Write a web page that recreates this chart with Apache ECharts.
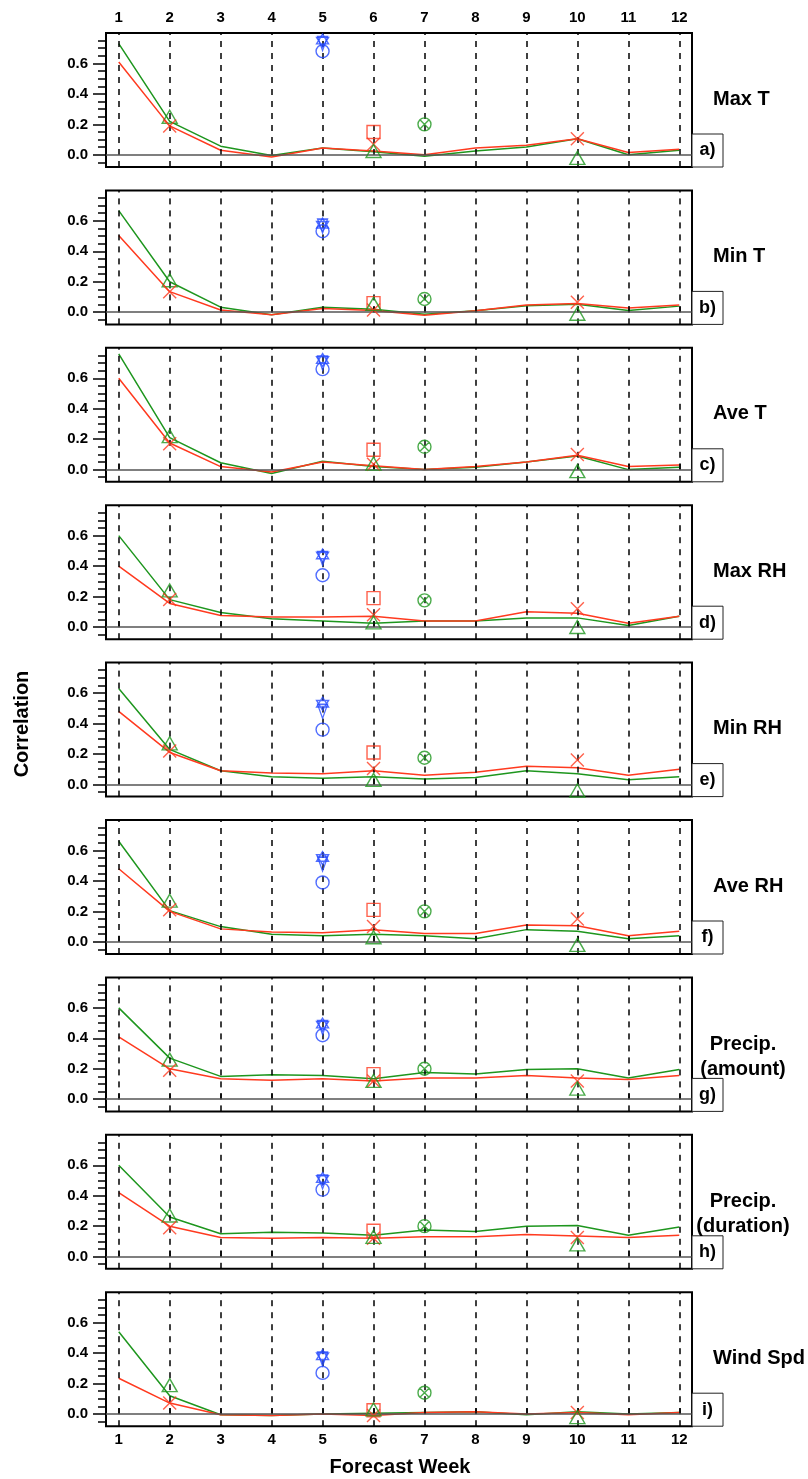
<!DOCTYPE html>
<html>
<head>
<meta charset="utf-8">
<script src="https://cdn.jsdelivr.net/npm/echarts@6/dist/echarts.min.js"></script>
<style>
html,body{margin:0;padding:0;background:#fff;}
#chart{width:808px;height:1479px;}
</style>
</head>
<body>
<div id="chart"></div>
<script>
// ---------- DATA ----------
const weeks = [1,2,3,4,5,6,7,8,9,10,11,12];
const panelNames = ['Max T','Min T','Ave T','Max RH','Min RH','Ave RH','Precip.\n(amount)','Precip.\n(duration)','Wind Spd'];
const panelLetters = ['a)','b)','c)','d)','e)','f)','g)','h)','i)'];
const yTickLabels = [0, 0.2, 0.4, 0.6];
const yMinorTicks = [-0.05,0.05,0.1,0.15,0.25,0.3,0.35,0.45,0.5,0.55,0.65,0.7,0.75];

// green line per panel (weeks 1..12)
const greenLine = [
  [0.73,0.22,0.057,-0.005,0.045,0.02,-0.01,0.025,0.052,0.106,0.0,0.03],
  [0.667,0.20,0.033,-0.017,0.033,0.02,-0.013,0.01,0.042,0.053,0.012,0.04],
  [0.76,0.21,0.045,-0.025,0.055,0.02,0.0,0.015,0.05,0.09,0.0,0.015],
  [0.60,0.18,0.095,0.055,0.04,0.025,0.04,0.04,0.06,0.06,0.01,0.07],
  [0.63,0.23,0.09,0.05,0.04,0.05,0.035,0.045,0.09,0.07,0.03,0.05],
  [0.66,0.205,0.10,0.05,0.04,0.05,0.04,0.02,0.08,0.07,0.02,0.04],
  [0.60,0.27,0.15,0.16,0.155,0.135,0.175,0.165,0.195,0.20,0.14,0.195],
  [0.60,0.26,0.15,0.16,0.155,0.14,0.175,0.165,0.20,0.205,0.14,0.195],
  [0.54,0.12,-0.005,-0.01,0.0,0.005,0.01,0.015,-0.005,0.015,0.0,0.01]
];
// red line per panel (weeks 1..12)
const redLine = [
  [0.61,0.19,0.03,-0.015,0.045,0.025,0.0,0.045,0.063,0.106,0.015,0.037],
  [0.504,0.135,0.015,-0.017,0.025,0.012,-0.02,0.01,0.048,0.058,0.027,0.048],
  [0.60,0.175,0.02,-0.015,0.05,0.025,0.0,0.02,0.05,0.095,0.02,0.03],
  [0.40,0.155,0.075,0.065,0.065,0.07,0.04,0.04,0.10,0.09,0.025,0.07],
  [0.48,0.21,0.09,0.075,0.07,0.09,0.06,0.08,0.12,0.11,0.06,0.10],
  [0.48,0.20,0.085,0.065,0.06,0.08,0.055,0.055,0.11,0.105,0.04,0.07],
  [0.41,0.20,0.135,0.125,0.135,0.12,0.14,0.14,0.155,0.14,0.13,0.155],
  [0.42,0.20,0.125,0.12,0.125,0.12,0.13,0.13,0.145,0.135,0.125,0.14],
  [0.235,0.072,-0.005,-0.01,0.0,-0.01,0.01,0.015,0.0,0.01,-0.005,0.01]
];
// single markers (one value per panel a..i)
const greenTriWeek2  = [0.25,0.21,0.22,0.24,0.27,0.27,0.26,0.27,0.19];
const redXWeek2      = [0.19,0.135,0.17,0.18,0.22,0.21,0.19,0.19,0.072];
const blueStarWeek5  = [0.75,0.575,0.72,0.47,0.53,0.55,0.49,0.51,0.38];
const blueTriDnWeek5 = [0.73,0.565,0.70,0.45,0.48,0.51,0.47,0.49,0.36];
const blueCircWeek5  = [0.68,0.532,0.66,0.34,0.36,0.39,0.42,0.44,0.27];
const redSqWeek6     = [0.15,0.06,0.13,0.19,0.21,0.21,0.165,0.17,0.025];
const redXWeek6      = [0.07,0.015,0.035,0.08,0.105,0.10,0.12,0.12,-0.01];
const greenTriWeek6  = [0.025,0.055,0.04,0.03,0.03,0.03,0.12,0.13,0.03];
const greenOxWeek7   = [0.20,0.087,0.15,0.175,0.175,0.20,0.20,0.20,0.14];
const redXWeek10     = [0.106,0.065,0.10,0.12,0.16,0.15,0.12,0.125,0.01];
const greenTriWeek10 = [-0.02,-0.01,-0.01,0.0,-0.04,-0.02,0.07,0.08,-0.02];

// ---------- STYLE ----------
const GREEN = '#1e961e', RED = '#ff3a1f', BLUE = '#2448ff';
const FONT = '"Liberation Sans", Arial, Helvetica, sans-serif';
const GL = 106, GW = 586, GT0 = 33, PITCH = 157.4, GH = 134;

const SYM = {
  tri: 'path://M0,-10 L10,7 L-10,7 Z',
  triDn: 'path://M-7,-9 L7,-9 L0,11 Z',
  star: 'path://M0,-10 L8.66,5 L-8.66,5 Z M0,10 L8.66,-5 L-8.66,-5 Z',
  x: 'path://M-10,-10 L10,10 M10,-10 L-10,10',
  ox: 'path://M10,0 A10,10 0 1 1 -10,0 A10,10 0 1 1 10,0 Z M-7,-7 L7,7 M7,-7 L-7,7',
  sq: 'path://M-10,-10 L10,-10 L10,10 L-10,10 Z',
  circ: 'path://M10,0 A10,10 0 1 1 -10,0 A10,10 0 1 1 10,0 Z'
};

const grids = [], xAxes = [], yAxes = [], series = [], graphics = [];
const hollow = (c) => ({color: 'rgba(0,0,0,0)', borderColor: c, borderWidth: 1.4});

for (let i = 0; i < 9; i++) {
  const top = GT0 + i * PITCH;
  grids.push({left: GL, top: top, width: GW, height: GH, show: true, borderColor: '#000', borderWidth: 2, backgroundColor: 'rgba(0,0,0,0)'});
  const isTop = i === 0, isBottom = i === 8;
  xAxes.push({
    type: 'value', gridIndex: i, min: 0.75, max: 12.25,
    position: isTop ? 'top' : 'bottom',
    axisLine: {show: false},
    splitLine: {show: false},
    axisTick: {show: !isTop, inside: true, length: 6, customValues: weeks, lineStyle: {color: '#000', width: 1.5}},
    axisLabel: {show: isTop || isBottom, customValues: weeks, margin: isTop ? 8 : 6,
      fontFamily: FONT, fontWeight: 'bold', fontSize: 15, color: '#000'}
  });
  yAxes.push({
    type: 'value', gridIndex: i, min: -0.08, max: 0.8, position: 'left',
    axisLine: {show: false}, splitLine: {show: false},
    axisTick: {show: true, length: 13, customValues: yTickLabels, lineStyle: {color: '#000', width: 1.5}},
    axisLabel: {show: true, customValues: yTickLabels, margin: 18, formatter: v => v.toFixed(1),
      fontFamily: FONT, fontWeight: 'bold', fontSize: 15, color: '#000'}
  });
  yAxes.push({
    type: 'value', gridIndex: i, min: -0.08, max: 0.8, position: 'left', offset: 0,
    axisLine: {show: false}, splitLine: {show: false},
    axisTick: {show: true, length: 8, customValues: yMinorTicks, lineStyle: {color: '#000', width: 1.5}},
    axisLabel: {show: false}
  });
  const yi = i * 2;
  // dashed verticals + zero line
  series.push({
    type: 'line', xAxisIndex: i, yAxisIndex: yi, data: [], silent: true, z: 1,
    markLine: {
      silent: true, symbol: 'none', label: {show: false}, animation: false,
      data: weeks.map(w => ({xAxis: w, lineStyle: {type: [6, 6], color: '#000', width: 1.5}}))
        .concat([{yAxis: 0, lineStyle: {type: 'solid', color: '#555', width: 1.5}}])
    }
  });
  series.push({type: 'line', xAxisIndex: i, yAxisIndex: yi, data: weeks.map((w, j) => [w, greenLine[i][j]]),
    symbol: 'none', lineStyle: {color: GREEN, width: 1.5}, itemStyle: {color: GREEN}, z: 3, animation: false});
  series.push({type: 'line', xAxisIndex: i, yAxisIndex: yi, data: weeks.map((w, j) => [w, redLine[i][j]]),
    symbol: 'none', lineStyle: {color: RED, width: 1.5}, itemStyle: {color: RED}, z: 4, animation: false});
  const sc = (wk, val, sym, size, col) => series.push({
    type: 'scatter', xAxisIndex: i, yAxisIndex: yi, data: [[wk, val]], symbol: sym, symbolSize: size,
    itemStyle: hollow(col), z: 5, animation: false
  });
  sc(2, greenTriWeek2[i], SYM.tri, [15, 13], GREEN);
  sc(2, redXWeek2[i], SYM.x, 13, RED);
  sc(5, blueCircWeek5[i], SYM.circ, 13, BLUE);
  sc(5, blueTriDnWeek5[i], SYM.triDn, [10, 14], BLUE);
  sc(5, blueStarWeek5[i], SYM.star, [12, 13], BLUE);
  sc(6, redSqWeek6[i], SYM.sq, 13, RED);
  sc(6, redXWeek6[i], SYM.x, 13, RED);
  sc(6, greenTriWeek6[i], SYM.tri, [15, 13], GREEN);
  sc(7, greenOxWeek7[i], SYM.ox, 13, GREEN);
  sc(10, redXWeek10[i], SYM.x, 13, RED);
  sc(10, greenTriWeek10[i], SYM.tri, [15, 13], GREEN);

  // letter box
  const bottom = top + GH;
  graphics.push({type: 'rect', shape: {x: GL + GW, y: bottom - 33, width: 31, height: 33},
    style: {fill: '#fff', stroke: '#222', lineWidth: 1}, z: 10});
  graphics.push({type: 'text', x: GL + GW + 15.5, y: bottom - 16.5,
    style: {text: panelLetters[i], font: 'bold 18px ' + FONT, fill: '#000', textAlign: 'center', textVerticalAlign: 'middle'}, z: 11});
  // panel name
  const name = panelNames[i];
  if (name.indexOf('\n') >= 0) {
    const parts = name.split('\n');
    graphics.push({type: 'text', x: 743, y: top + 67,
      style: {text: parts[0], font: 'bold 20px ' + FONT, fill: '#000', textAlign: 'center', textVerticalAlign: 'middle'}, z: 11});
    graphics.push({type: 'text', x: 743, y: top + 92,
      style: {text: parts[1], font: 'bold 20px ' + FONT, fill: '#000', textAlign: 'center', textVerticalAlign: 'middle'}, z: 11});
  } else {
    graphics.push({type: 'text', x: 713, y: top + 66,
      style: {text: name, font: 'bold 20px ' + FONT, fill: '#000', textAlign: 'left', textVerticalAlign: 'middle'}, z: 11});
  }
}
graphics.push({type: 'text', x: 400, y: 1467,
  style: {text: 'Forecast Week', font: 'bold 20px ' + FONT, fill: '#000', textAlign: 'center', textVerticalAlign: 'middle'}});
graphics.push({type: 'text', x: 22, y: 724, rotation: Math.PI / 2,
  style: {text: 'Correlation', font: 'bold 20px ' + FONT, fill: '#000', textAlign: 'center', textVerticalAlign: 'middle'}});

const chart = echarts.init(document.getElementById('chart'), null, {renderer: 'canvas'});
chart.setOption({
  animation: false,
  backgroundColor: '#fff',
  grid: grids, xAxis: xAxes, yAxis: yAxes, series: series, graphic: graphics
});
</script>
</body>
</html>
